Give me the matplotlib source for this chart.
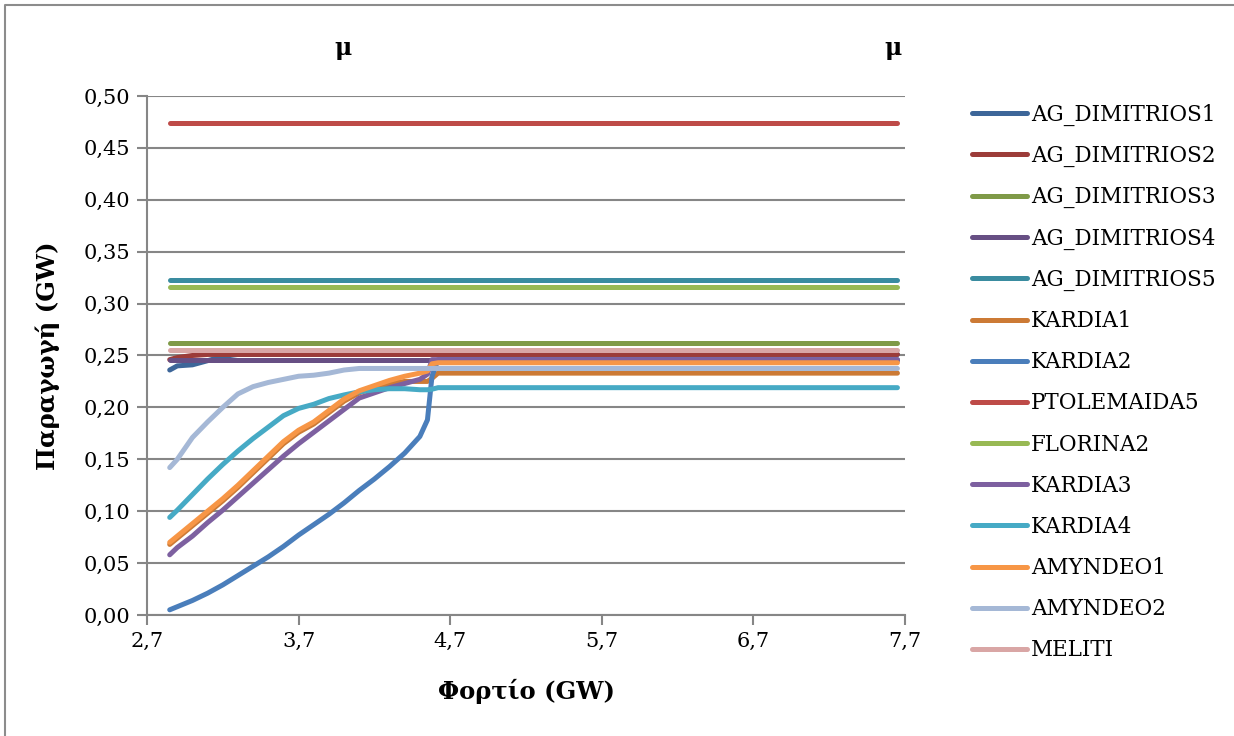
import matplotlib.pyplot as plt
from matplotlib.lines import Line2D

# load points (GW) shared by every unit
load = [2.85, 2.9, 3.0, 3.1, 3.2, 3.3, 3.4, 3.5, 3.6, 3.7, 3.8, 3.9, 4.0, 4.1,
        4.2, 4.3, 4.4, 4.5, 4.55, 4.58, 4.62, 5.5, 6.5, 7.65]

ag_dimitrios1 = [0.236, 0.240, 0.241, 0.245, 0.249, 0.251, 0.251, 0.251, 0.251, 0.251, 0.251, 0.251,
                 0.251, 0.251, 0.251, 0.251, 0.251, 0.251, 0.251, 0.251, 0.251, 0.251, 0.251, 0.251]
ag_dimitrios2 = [0.246, 0.248, 0.250, 0.251, 0.251, 0.251, 0.251, 0.251, 0.251, 0.251, 0.251, 0.251,
                 0.251, 0.251, 0.251, 0.251, 0.251, 0.251, 0.251, 0.251, 0.251, 0.251, 0.251, 0.251]
ag_dimitrios3 = [0.262] * 24
ag_dimitrios4 = [0.246] * 24
ag_dimitrios5 = [0.323] * 24
kardia1 = [0.068, 0.074, 0.086, 0.098, 0.110, 0.123, 0.137, 0.151, 0.165, 0.176, 0.184, 0.195,
           0.206, 0.214, 0.219, 0.223, 0.225, 0.225, 0.225, 0.228, 0.233, 0.233, 0.233, 0.233]
kardia2 = [0.005, 0.008, 0.014, 0.021, 0.029, 0.038, 0.047, 0.056, 0.066, 0.077, 0.087, 0.097,
           0.108, 0.120, 0.131, 0.143, 0.156, 0.172, 0.188, 0.230, 0.246, 0.246, 0.246, 0.246]
ptolemaida5 = [0.474] * 24
florina2 = [0.316] * 24
kardia3 = [0.058, 0.065, 0.076, 0.089, 0.101, 0.114, 0.127, 0.140, 0.153, 0.165, 0.176, 0.187,
           0.198, 0.209, 0.214, 0.219, 0.223, 0.227, 0.232, 0.246, 0.246, 0.246, 0.246, 0.246]
kardia4 = [0.094, 0.101, 0.116, 0.131, 0.145, 0.158, 0.170, 0.181, 0.192, 0.199, 0.203, 0.2085,
           0.212, 0.215, 0.217, 0.218, 0.218, 0.217, 0.217, 0.2175, 0.219, 0.219, 0.219, 0.219]
amyndeo1 = [0.070, 0.076, 0.088, 0.100, 0.112, 0.125, 0.139, 0.153, 0.167, 0.178, 0.186, 0.197,
            0.208, 0.216, 0.221, 0.226, 0.230, 0.233, 0.235, 0.242, 0.243, 0.243, 0.243, 0.243]
amyndeo2 = [0.142, 0.150, 0.171, 0.186, 0.200, 0.213, 0.220, 0.224, 0.227, 0.230, 0.231, 0.233,
            0.236, 0.2375, 0.2375, 0.2375, 0.2375, 0.2375, 0.2375, 0.2375, 0.2375, 0.2375, 0.2375, 0.2375]
meliti = [0.2555] * 24

names = ['AG_DIMITRIOS1', 'AG_DIMITRIOS2', 'AG_DIMITRIOS3', 'AG_DIMITRIOS4', 'AG_DIMITRIOS5',
         'KARDIA1', 'KARDIA2', 'PTOLEMAIDA5', 'FLORINA2', 'KARDIA3', 'KARDIA4',
         'AMYNDEO1', 'AMYNDEO2', 'MELITI']
series = [ag_dimitrios1, ag_dimitrios2, ag_dimitrios3, ag_dimitrios4, ag_dimitrios5,
          kardia1, kardia2, ptolemaida5, florina2, kardia3, kardia4,
          amyndeo1, amyndeo2, meliti]
colors = ['#3d6699', '#9c3c39', '#7f9a48', '#674f84', '#3a8ca0',
          '#cc7a35', '#4a7ebb', '#be4b48', '#98b954', '#7d60a0', '#46aac5',
          '#f79646', '#a5b8d6', '#d9a6a5']

yticks = [0.0, 0.05, 0.10, 0.15, 0.20, 0.25, 0.30, 0.35, 0.40, 0.45, 0.50]
xticks = [2.7, 3.7, 4.7, 5.7, 6.7, 7.7]

plt.rcParams['font.family'] = ['DejaVu Serif']

fig = plt.figure(figsize=(12.34, 7.36), dpi=100)
# chart-area border: only the left and top edges show in the original
fig.lines.append(Line2D([0.004, 0.004, 1.0], [0.0, 0.993, 0.993], transform=fig.transFigure,
                        color='#8c8c8c', linewidth=1.5))
ax = fig.add_axes([0.1191, 0.1644, 0.6143, 0.7052])

for name, vals, c in zip(names, series, colors):
    ax.plot(load, vals, color=c, linewidth=3.6, solid_capstyle='round',
            solid_joinstyle='round', label=name)

ax.set_xlim(2.7, 7.7)
ax.set_ylim(0, 0.5)
ax.set_xticks(xticks)
ax.set_xticklabels([f'{t:.1f}'.replace('.', ',') for t in xticks])
ax.set_yticks(yticks)
ax.set_yticklabels([f'{t:.2f}'.replace('.', ',') for t in yticks])
ax.tick_params(labelsize=15, color='#868686', width=1.5, length=7, pad=5)
ax.grid(axis='y', color='#868686', linewidth=1.5)
ax.set_axisbelow(True)
for s in ['top', 'right']:
    ax.spines[s].set_visible(False)
for s in ['left', 'bottom']:
    ax.spines[s].set_color('#868686')
    ax.spines[s].set_linewidth(1.5)

ax.set_xlabel('Φορτίο (GW)', fontsize=17.5, fontweight='bold', labelpad=20)
ax.set_ylabel('Παραγωγή (GW)', fontsize=17.5, fontweight='bold', labelpad=17)

fig.text(343 / 1234, 1 - 48 / 736, 'μ', fontsize=17, fontweight='bold', ha='center', va='center')
fig.text(893 / 1234, 1 - 48 / 736, 'μ', fontsize=17, fontweight='bold', ha='center', va='center')

ax.legend(loc='upper left', bbox_to_anchor=(963 / 1234, 1 - 95 / 736),
          bbox_transform=fig.transFigure, frameon=False, fontsize=15.5,
          handlelength=2.55, handletextpad=0.2, labelspacing=0.89, borderaxespad=0)

fig.savefig('out.png', dpi=100)
